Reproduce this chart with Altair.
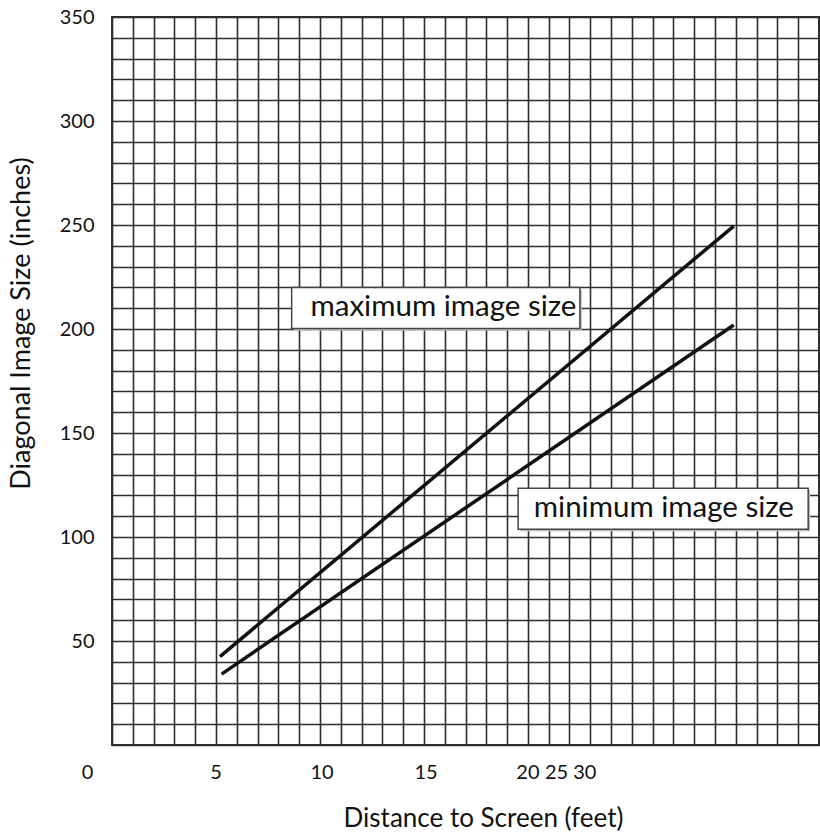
import altair as alt
import pandas as pd

# Lines (x in feet-grid units, y in inches)
max_x = [5.19, 29.9]
max_y = [42.5, 249.5]
min_x = [5.27, 29.9]
min_y = [34.1, 201.9]

# x tick labels as printed in the reference
xtick_pos = [-1.18, 5.0, 10.1, 15.1, 20.0, 21.38, 22.74]
xtick_lab = ["0", "5", "10", "15", "20", "25", "30"]

# annotation boxes
ann_text = ["maximum image size", "minimum image size"]
ann_tx = [15.94, 26.54]
ann_ty = [210.4, 114.0]
ann_x1 = [8.64, 19.53]
ann_x2 = [22.5, 33.48]
ann_y1 = [200.3, 103.7]
ann_y2 = [220.0, 123.4]

FONT = "Lato"
GRID = "#2e2e2e"
W, H = 707, 728

lines = pd.DataFrame({
    "x": max_x + min_x,
    "y": max_y + min_y,
    "s": ["max"] * len(max_x) + ["min"] * len(min_x),
})
ticks = pd.DataFrame({"x": xtick_pos, "t": xtick_lab})
ann = pd.DataFrame({"t": ann_text, "tx": ann_tx, "ty": ann_ty,
                    "x1": ann_x1, "x2": ann_x2, "y1": ann_y1, "y2": ann_y2})

xs = alt.Scale(domain=[0, 34], nice=False, zero=False)
ys = alt.Scale(domain=[0, 350], nice=False, zero=False)

xaxis = alt.Axis(values=list(range(0, 35)), tickCount=100, grid=True, labels=False,
                 ticks=False, domain=False, title="Distance to Screen (feet)",
                 titleFont=FONT, titleFontSize=26, titleFontWeight="normal",
                 titleColor="#111", titleX=371, titleY=73, titleBaseline="middle",
                 titleAlign="center")
yaxis = alt.Axis(values=list(range(0, 351, 10)), tickCount=100, grid=True, ticks=False,
                 domain=False, labelOverlap=False,
                 labelExpr="datum.value % 50 == 0 && datum.value > 0 ? datum.label : ''",
                 labelFont=FONT, labelFontSize=20, labelColor="#111", labelPadding=18,
                 title="Diagonal Image Size (inches)", titleFont=FONT, titleFontSize=27,
                 titleFontWeight="normal", titleColor="#111", titleX=-91, titleY=306,
                 titleBaseline="middle", titleAlign="center", titleAngle=270)

base_lines = alt.Chart(lines).mark_line(color="#111", strokeWidth=3.5).encode(
    x=alt.X("x:Q", scale=xs, axis=xaxis),
    y=alt.Y("y:Q", scale=ys, axis=yaxis),
    detail="s:N",
)

tick_text = alt.Chart(ticks).mark_text(font=FONT, fontSize=20, color="#111",
                                       baseline="middle", align="center").encode(
    x=alt.X("x:Q", scale=xs),
    y=alt.value(H + 28),
    text="t:N",
)

shadow = alt.Chart(ann).mark_rect(fill="#bdbdbd", xOffset=2, yOffset=2, x2Offset=2,
                                  y2Offset=2).encode(
    x=alt.X("x1:Q", scale=xs), x2="x2:Q",
    y=alt.Y("y1:Q", scale=ys), y2="y2:Q",
)
boxes = alt.Chart(ann).mark_rect(fill="white", stroke="#444", strokeWidth=1.5).encode(
    x=alt.X("x1:Q", scale=xs), x2="x2:Q",
    y=alt.Y("y1:Q", scale=ys), y2="y2:Q",
)
ann_label = alt.Chart(ann).mark_text(font=FONT, fontSize=29.5, color="#111",
                                     baseline="middle", align="center").encode(
    x=alt.X("tx:Q", scale=xs),
    y=alt.Y("ty:Q", scale=ys),
    text="t:N",
)

chart = alt.layer(base_lines, tick_text, shadow, boxes, ann_label).properties(
    width=W, height=H,
    padding={"left": 112, "top": 17, "right": 1, "bottom": 92},
    autosize=alt.AutoSizeParams(type="none"),
    background="white",
).configure_view(stroke=GRID, strokeWidth=2).configure_axis(
    gridColor=GRID, gridWidth=1.6, gridOpacity=1
)

chart.save("out.html", embed_options={"renderer": "svg", "actions": False})
